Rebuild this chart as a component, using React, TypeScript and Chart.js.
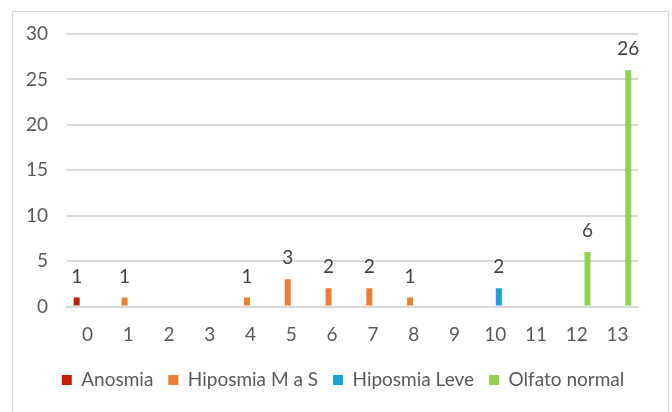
import React, { useEffect, useRef } from "react";
import { Chart, registerables } from "chart.js";

Chart.register(...registerables);

const categories = ["0", "1", "2", "3", "4", "5", "6", "7", "8", "9", "10", "11", "12", "13"];
const anosmia = [1, 0, 0, 0, 0, 0, 0, 0, 0, 0, 0, 0, 0, 0];
const hiposmiaMaS = [0, 1, 0, 0, 1, 3, 2, 2, 1, 0, 0, 0, 0, 0];
const hiposmiaLeve = [0, 0, 0, 0, 0, 0, 0, 0, 0, 0, 2, 0, 0, 0];
const olfatoNormal = [0, 0, 0, 0, 0, 0, 0, 0, 0, 0, 0, 0, 6, 26];
const yTicks = [0, 5, 10, 15, 20, 25, 30];

const FONT = "Lato, 'Open Sans', sans-serif";
const SIZE = 19;
const TEXT = "#595959";

// Writes each non-zero value above its bar
const valueLabels = {
  id: "valueLabels",
  afterDatasetsDraw(chart: any) {
    const ctx = chart.ctx;
    ctx.save();
    ctx.font = `${SIZE}px ${FONT}`;
    ctx.fillStyle = "#404040";
    ctx.textAlign = "center";
    ctx.textBaseline = "middle";
    chart.data.datasets.forEach((ds: any, i: number) => {
      const meta = chart.getDatasetMeta(i);
      meta.data.forEach((bar: any, j: number) => {
        const v = ds.data[j];
        if (!v) return;
        ctx.fillText(String(v), bar.x, bar.y - 21);
      });
    });
    ctx.restore();
  },
};

export default function App() {
  const ref = useRef<HTMLCanvasElement>(null);

  useEffect(() => {
    if (!ref.current) return;
    const mk = (label: string, data: number[], color: string) => ({
      label,
      data,
      backgroundColor: color,
      borderWidth: 0,
      categoryPercentage: 0.7,
      barPercentage: 0.84,
    });
    const chart = new Chart(ref.current, {
      type: "bar",
      data: {
        labels: categories,
        datasets: [
          mk("Anosmia", anosmia, "#C21E0A"),
          mk("Hiposmia M a S", hiposmiaMaS, "#ED7D31"),
          mk("Hiposmia Leve", hiposmiaLeve, "#1BA1DC"),
          mk("Olfato normal", olfatoNormal, "#92D050"),
        ],
      },
      options: {
        animation: false,
        responsive: false,
        layout: { padding: { left: 14, right: 0, top: 34, bottom: 12.5 } },
        plugins: {
          tooltip: { enabled: false },
          legend: {
            position: "bottom",
            labels: {
              boxWidth: 10,
              boxHeight: 10,
              padding: 15,
              color: TEXT,
              font: { family: FONT, size: SIZE },
            },
          },
        },
        scales: {
          x: {
            grid: { display: false, drawTicks: false },
            border: { display: true, color: "#d9d9d9", width: 2 },
            ticks: { color: TEXT, font: { family: FONT, size: SIZE }, padding: 17, maxRotation: 0 },
            afterFit: (s: any) => {
              s.height = 49;
            },
          },
          y: {
            min: 0,
            max: 30,
            afterBuildTicks: (s: any) => {
              s.ticks = yTicks.map((v) => ({ value: v }));
            },
            grid: { color: "#d9d9d9", lineWidth: 2, drawTicks: false },
            border: { display: false },
            ticks: { color: TEXT, font: { family: FONT, size: SIZE }, padding: 19 },
            afterFit: (s: any) => {
              s.width = 53;
            },
          },
          // empty right-hand margin beside the plot
          yRight: {
            position: "right",
            display: true,
            grid: { display: false, drawTicks: false },
            border: { display: false },
            ticks: { display: false },
            afterFit: (s: any) => {
              s.width = 34;
            },
          },
        },
      },
      plugins: [valueLabels],
    });
    return () => chart.destroy();
  }, []);

  return (
    <div style={{ position: "fixed", left: 0, top: 0, width: 672, height: 412, background: "#fff" }}>
      <div
        style={{
          position: "absolute",
          left: 12,
          top: 11,
          width: 655,
          height: 420,
          border: "1px solid #d9d9d9",
        }}
      />
      <canvas ref={ref} width={672} height={412} style={{ position: "absolute", left: 0, top: 0 }} />
    </div>
  );
}
